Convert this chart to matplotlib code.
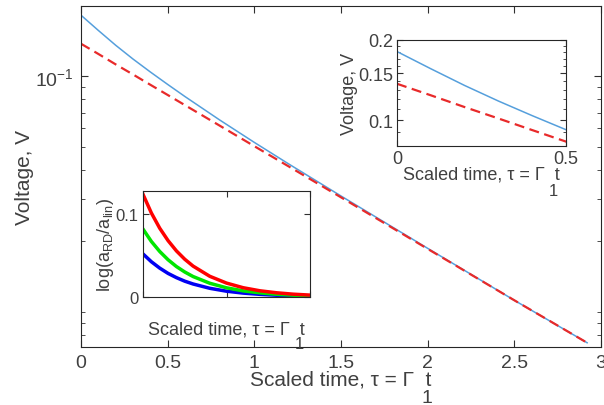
import numpy as np
import matplotlib
matplotlib.use('Agg')
import matplotlib.pyplot as plt

plt.rcParams['font.family'] = ['Liberation Sans', 'DejaVu Sans']
plt.rcParams['mathtext.fontset'] = 'custom'
plt.rcParams['mathtext.rm'] = 'Liberation Sans'
plt.rcParams['mathtext.it'] = 'Liberation Sans'
plt.rcParams['text.color'] = '#404040'
plt.rcParams['axes.labelcolor'] = '#404040'
plt.rcParams['xtick.color'] = '#303030'
plt.rcParams['ytick.color'] = '#303030'
plt.rcParams['xtick.labelcolor'] = '#404040'
plt.rcParams['ytick.labelcolor'] = '#404040'
plt.rcParams['axes.edgecolor'] = '#262626'

# scaled time and voltages
tau = [0, 0.1, 0.2, 0.3, 0.4, 0.5, 0.6, 0.8, 1.0, 1.2, 1.5, 2.0, 2.5, 2.92]
v_model = [0.181, 0.156, 0.135, 0.118, 0.104, 0.0921, 0.0818, 0.0651,
           0.0523, 0.0423, 0.0310, 0.0186, 0.0112, 0.0074]
v_linear = [0.137, 0.124, 0.112, 0.1015, 0.0918, 0.0831, 0.0752, 0.0616,
            0.0504, 0.0413, 0.0306, 0.0185, 0.0112, 0.0074]

# log(a_RD / a_lin) for three cases
tau_r = [0, 0.1, 0.2, 0.3, 0.4, 0.5, 0.6, 0.8, 1.0, 1.2, 1.4, 1.6, 1.8, 2.0]
ratio_red = [0.124, 0.1015, 0.0831, 0.0681, 0.0557, 0.0456, 0.0373, 0.0250,
             0.0168, 0.0112, 0.0075, 0.0051, 0.0034, 0.0023]
ratio_green = [0.082, 0.0671, 0.0550, 0.0450, 0.0368, 0.0302, 0.0247, 0.0166,
               0.0111, 0.0074, 0.0050, 0.0033, 0.0022, 0.0015]
ratio_blue = [0.052, 0.0426, 0.0349, 0.0285, 0.0234, 0.0191, 0.0157, 0.0105,
              0.0070, 0.0047, 0.0032, 0.0021, 0.0014, 0.0010]

xlab = 'Scaled time, τ = Γ  t'
c_blue = '#559fdc'
c_red = '#e82a2a'
W, H = 604, 406

def px(x, y):
    return x / W, 1 - y / H

fig = plt.figure(figsize=(6.04, 4.06), dpi=100)

ax = fig.add_axes([81/W, 1-348/H, 520/W, 341/H])
ax.plot(tau, v_model, color=c_blue, lw=1.1)
ax.plot(tau, v_linear, color=c_red, lw=1.6, ls=(0, (4.5, 2.5)))
ax.set_yscale('log')
ax.set_xlim(0, 3)
ax.set_ylim(0.0071, 0.198)
ax.set_xticks(np.arange(0, 3.01, 0.5))
ax.set_xticklabels(['0', '0.5', '1', '1.5', '2', '2.5', '3'])
ax.set_yticks([0.1])
ax.set_yticklabels([r'$10^{-1}$'])
ax.set_yticks([0.008, 0.009, 0.01, 0.02, 0.03, 0.04, 0.05, 0.06, 0.07, 0.08, 0.09], minor=True)
ax.set_yticklabels([], minor=True)
ax.tick_params(which='both', direction='in', top=True, right=True, labelsize=14, pad=5)
ax.tick_params(which='major', length=5)
ax.tick_params(which='minor', length=3)
ax.set_xlabel(xlab, fontsize=15, labelpad=-1)
ax.set_ylabel('Voltage, V', fontsize=15, labelpad=1)

# upper inset
ax1 = fig.add_axes([397/W, 1-147/H, 169/W, 106/H])
ax1.plot(tau, v_model, color=c_blue, lw=1.1)
ax1.plot(tau, v_linear, color=c_red, lw=1.6, ls=(0, (4.5, 2.5)))
ax1.set_yscale('log')
ax1.set_xlim(0, 0.5)
ax1.set_ylim(0.08, 0.2)
ax1.set_xticks([0, 0.5])
ax1.set_xticklabels(['0', '0.5'])
ax1.set_yticks([0.1, 0.15, 0.2])
ax1.set_yticklabels(['0.1', '0.15', '0.2'])
ax1.set_yticks([0.09, 0.11, 0.12, 0.13, 0.14, 0.16, 0.17, 0.18, 0.19], minor=True)
ax1.set_yticklabels([], minor=True)
ax1.tick_params(which='both', direction='in', top=True, right=True, labelsize=13, pad=3)
ax1.tick_params(which='major', length=4)
ax1.tick_params(which='minor', length=2)
ax1.set_xlabel(xlab, fontsize=13, labelpad=-1)
ax1.set_ylabel('Voltage, V', fontsize=13, labelpad=0)

# lower inset
ax2 = fig.add_axes([143/W, 1-298/H, 167/W, 106/H])
ax2.plot(tau_r, ratio_blue, color=(0, 0, 0.95), lw=2.5)
ax2.plot(tau_r, ratio_green, color=(0, 0.9, 0), lw=2.5)
ax2.plot(tau_r, ratio_red, color=(1, 0, 0), lw=2.5)
ax2.set_xlim(0, 2)
ax2.set_ylim(0, 0.128)
ax2.set_xticks([0, 1, 2])
ax2.set_xticklabels([])
ax2.set_yticks([0, 0.1])
ax2.set_yticklabels(['0', '0.1'])
ax2.tick_params(direction='in', top=True, right=True, labelsize=12, length=4, pad=3)
ax2.set_xlabel(xlab, fontsize=13, labelpad=14)
ax2.set_ylabel(r'log(a$_{\mathregular{RD}}$/a$_{\mathregular{lin}}$)', fontsize=13, labelpad=0)

# subscripts of Gamma, set low as in the original
fig.text(*px(427, 399), '1', fontsize=14, ha='center', va='center')
fig.text(*px(553, 191), '1', fontsize=12, ha='center', va='center')
fig.text(*px(299, 345), '1', fontsize=12, ha='center', va='center')

fig.savefig('out.png', dpi=100)
